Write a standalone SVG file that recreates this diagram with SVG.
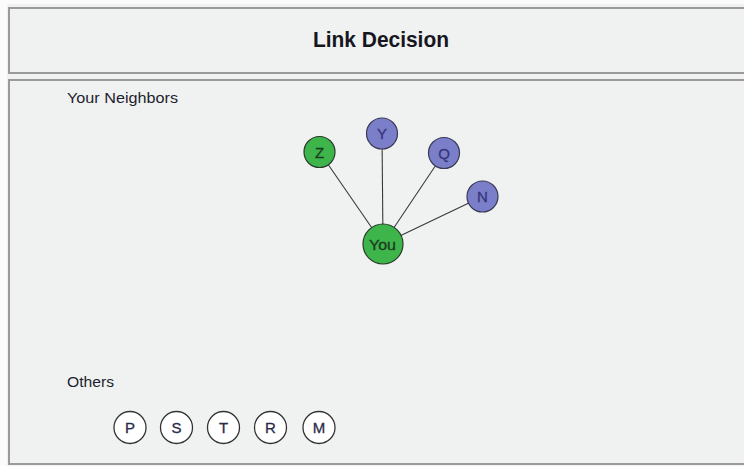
<svg xmlns="http://www.w3.org/2000/svg" width="744" height="466" viewBox="0 0 744 466">
  <style>
    .panel { fill: #f0f1f1; stroke: #9a9a9a; stroke-width: 2; }
    .edge { stroke: #3a3a3a; stroke-width: 1.1; fill: none; }
    .green { fill: #3db54a; stroke: #2b3a2b; stroke-width: 1.2; }
    .blue { fill: #7b7fc9; stroke: #3a3a55; stroke-width: 1.2; }
    .white { fill: #ffffff; stroke: #333333; stroke-width: 1.3; }
    .lbl { font-family: "Liberation Sans", Arial, sans-serif; font-size: 15px; text-anchor: middle; stroke-width: 0.3; }
    .gl { fill: #1c3a22; stroke: #1c3a22; }
    .bl { fill: #35357a; stroke: #35357a; }
    .wl { fill: #2a2a4a; stroke: #2a2a4a; }
    .sec { font-family: "Liberation Sans", Arial, sans-serif; font-size: 15.5px; fill: #1e1e2e; }
  </style>
  <rect x="0" y="0" width="744" height="466" fill="#fbfbfb"/>
  <rect x="7" y="4" width="737" height="462" fill="#f0f1f1"/>

  <g id="header">
    <rect class="panel" x="9" y="8" width="740" height="65"/>
    <text x="381" y="47" font-family="'Liberation Sans', Arial, sans-serif" font-size="22" font-weight="bold" fill="#161620" text-anchor="middle" textLength="136" lengthAdjust="spacingAndGlyphs">Link Decision</text>
  </g>

  <g id="main-panel">
    <rect class="panel" x="9" y="80" width="740" height="384"/>
    <text class="sec" x="67" y="102.5" textLength="111" lengthAdjust="spacingAndGlyphs">Your Neighbors</text>
    <text class="sec" x="67" y="387" textLength="47" lengthAdjust="spacingAndGlyphs">Others</text>
  </g>

  <g id="connectors">
    <line class="edge" x1="383" y1="244" x2="319.5" y2="152"/>
    <line class="edge" x1="383" y1="244" x2="382" y2="133.5"/>
    <line class="edge" x1="383" y1="244" x2="444" y2="153"/>
    <line class="edge" x1="383" y1="244" x2="482.5" y2="196.5"/>
  </g>

  <g id="node-Z">
    <circle class="green" cx="319.5" cy="152" r="15.5"/>
    <text class="lbl gl" x="319.5" y="157.5">Z</text>
  </g>
  <g id="node-Y">
    <circle class="blue" cx="382" cy="133.5" r="15.5"/>
    <text class="lbl bl" x="382" y="139">Y</text>
  </g>
  <g id="node-Q">
    <circle class="blue" cx="444" cy="153" r="15.5"/>
    <text class="lbl bl" x="444" y="158.5">Q</text>
  </g>
  <g id="node-N">
    <circle class="blue" cx="482.5" cy="196.5" r="15.5"/>
    <text class="lbl bl" x="482.5" y="202">N</text>
  </g>
  <g id="node-You">
    <circle class="green" cx="383" cy="244" r="20"/>
    <text class="lbl gl" x="382.5" y="249.5" font-size="16" textLength="27" lengthAdjust="spacingAndGlyphs">You</text>
  </g>

  <g id="node-P">
    <circle class="white" cx="130" cy="427.5" r="16"/>
    <text class="lbl wl" x="130" y="433">P</text>
  </g>
  <g id="node-S">
    <circle class="white" cx="176.5" cy="427.5" r="16"/>
    <text class="lbl wl" x="176.5" y="433">S</text>
  </g>
  <g id="node-T">
    <circle class="white" cx="223.5" cy="427.5" r="16"/>
    <text class="lbl wl" x="223.5" y="433">T</text>
  </g>
  <g id="node-R">
    <circle class="white" cx="270.5" cy="427.5" r="16"/>
    <text class="lbl wl" x="270.5" y="433">R</text>
  </g>
  <g id="node-M">
    <circle class="white" cx="319" cy="427.5" r="16"/>
    <text class="lbl wl" x="319" y="433">M</text>
  </g>
</svg>
